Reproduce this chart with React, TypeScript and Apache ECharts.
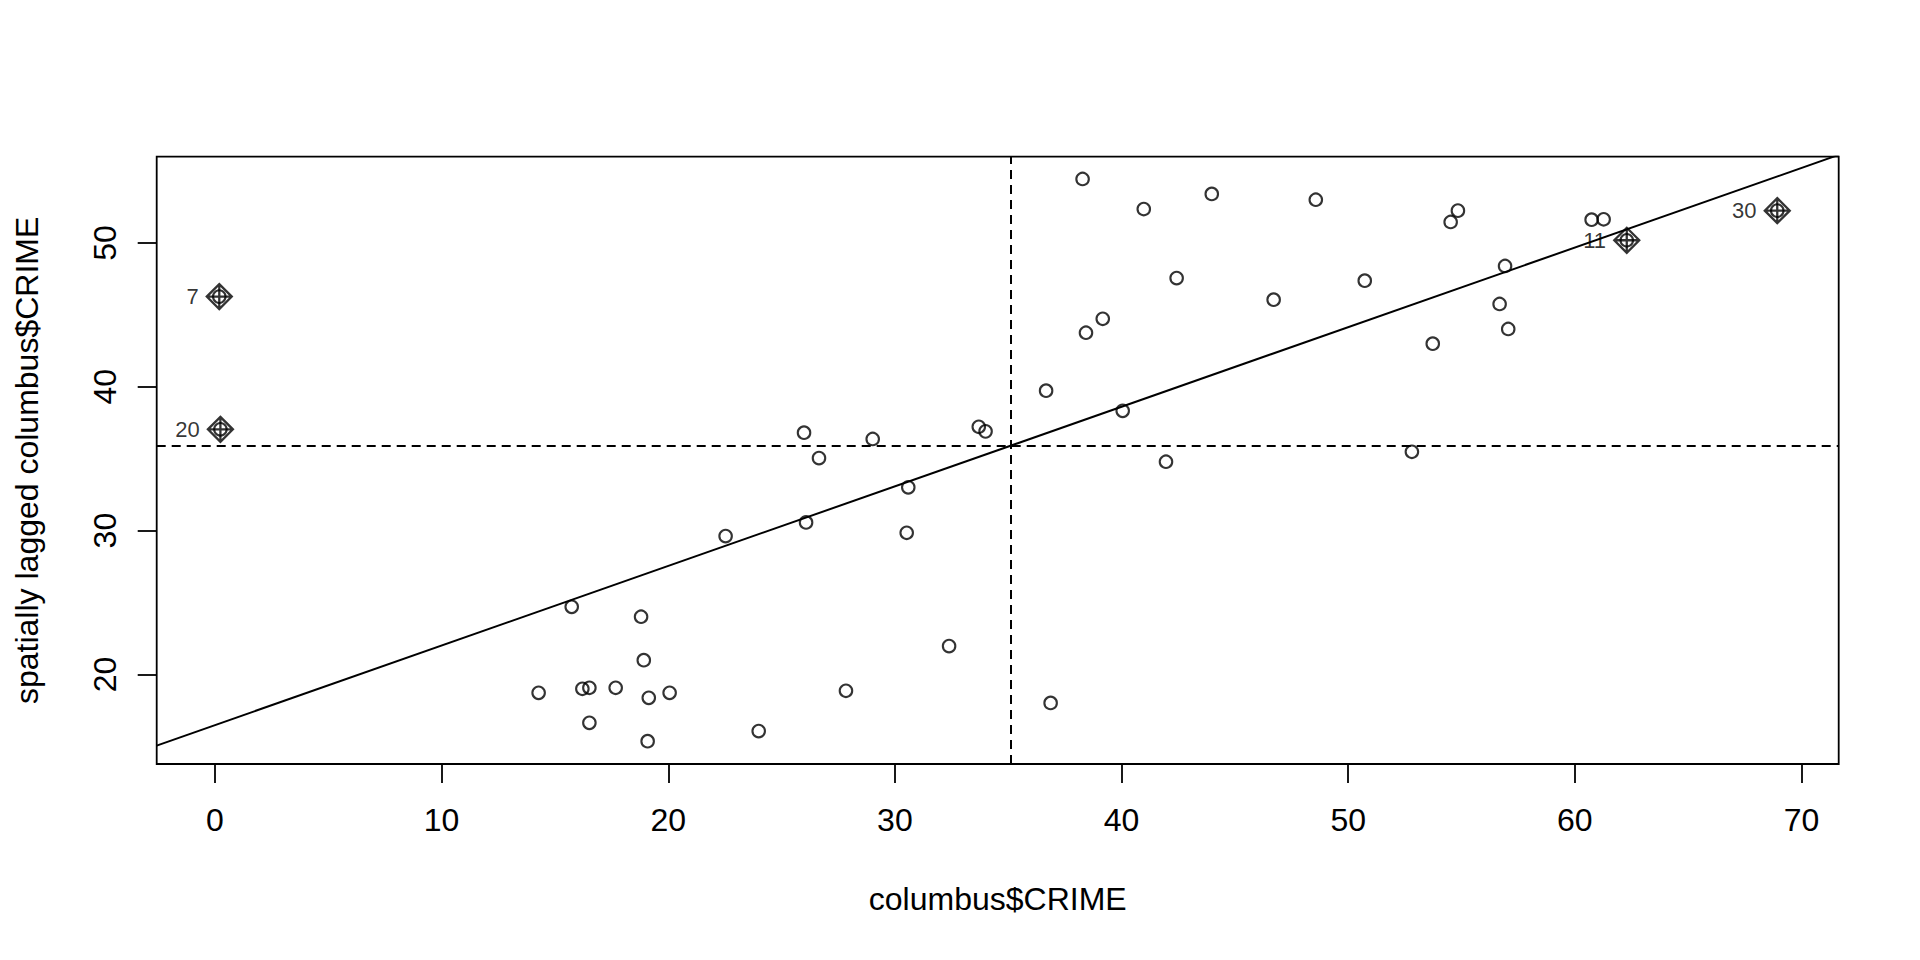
import React, { useEffect, useRef } from "react";
import * as echarts from "echarts";

// Observations (1..49): columbus$CRIME and its spatial lag
const CRIME = [
  15.74, 18.8, 30.59, 32.39, 50.73, 26.08, 0.19, 38.43, 30.52, 34.0,
  62.29, 56.68, 46.71, 57.06, 48.57, 54.84, 36.87, 43.98, 54.52, 0.24,
  40.05, 33.7, 20.06, 38.28, 61.27, 40.98, 52.81, 56.92, 60.74, 68.93,
  17.68, 19.14, 41.96, 42.43, 18.92, 16.52, 36.67, 25.99, 29.02, 16.21,
  27.84, 26.65, 22.53, 14.28, 16.52, 23.99, 19.09, 39.17, 53.73,
];
const LAG_CRIME = [
  24.7, 24.01, 33.01, 21.97, 47.38, 30.57, 46.27, 43.76, 29.85, 36.9,
  50.19, 45.76, 46.06, 44.02, 53.01, 52.25, 18.02, 53.41, 51.46, 37.04,
  38.33, 37.22, 18.72, 54.45, 51.65, 52.36, 35.48, 48.4, 51.62, 52.25,
  19.07, 18.37, 34.79, 47.56, 20.99, 19.07, 39.73, 36.81, 36.37, 19.0,
  18.86, 35.04, 29.62, 18.72, 16.63, 16.06, 15.36, 44.73, 43.0,
];
// Influential observations (1-based ids), drawn as diamonds and labelled
const INFLUENTIAL_IDS = [7, 11, 20, 30];

const X_TICKS = [0, 10, 20, 30, 40, 50, 60, 70];
const Y_TICKS = [20, 30, 40, 50];
const X_NAME = "columbus$CRIME";
const Y_NAME = "spatially lagged columbus$CRIME";

const X_MIN = -2.571;
const X_MAX = 71.641;
const Y_MIN = 13.77;
const Y_MAX = 56.0;

const FONT = "'Liberation Sans', Arial, sans-serif";
const FS = 32;

export default function App() {
  const ref = useRef<HTMLDivElement>(null);

  useEffect(() => {
    if (!ref.current) return;
    const chart = echarts.init(ref.current, null, { renderer: "svg" });

    const n = CRIME.length;
    const meanX = CRIME.reduce((a, b) => a + b, 0) / n;
    const meanY = LAG_CRIME.reduce((a, b) => a + b, 0) / n;
    let sxy = 0;
    let sxx = 0;
    for (let i = 0; i < n; i++) {
      sxy += (CRIME[i] - meanX) * (LAG_CRIME[i] - meanY);
      sxx += (CRIME[i] - meanX) * (CRIME[i] - meanX);
    }
    const slope = sxy / sxx;
    const intercept = meanY - slope * meanX;

    const points = CRIME.map((x, i) => [x, LAG_CRIME[i]]);
    const infl = INFLUENTIAL_IDS.map((id) => ({
      value: [CRIME[id - 1], LAG_CRIME[id - 1]],
      name: String(id),
    }));

    const diamond =
      "path://M12,0 L24,12 L12,24 L0,12 Z M12,0 L12,24 M0,12 L24,12";

    chart.setOption({
      animation: false,
      backgroundColor: "#ffffff",
      textStyle: { fontFamily: FONT },
      grid: {
        left: 156.7,
        top: 156.7,
        right: 81.3,
        bottom: 196,
        show: true,
        borderColor: "#000",
        borderWidth: 1.8,
        backgroundColor: "transparent",
      },
      xAxis: {
        type: "value",
        min: X_MIN,
        max: X_MAX,
        name: X_NAME,
        nameLocation: "middle",
        nameGap: 119,
        nameTextStyle: { fontSize: FS, color: "#000", fontFamily: FONT },
        axisLine: { show: false, onZero: false },
        axisTick: {
          show: true,
          customValues: X_TICKS,
          length: 19,
          lineStyle: { color: "#000", width: 1.8 },
        },
        axisLabel: {
          show: true,
          customValues: X_TICKS,
          fontSize: FS,
          color: "#000",
          margin: 40,
          fontFamily: FONT,
        },
        splitLine: { show: false },
      },
      yAxis: {
        type: "value",
        min: Y_MIN,
        max: Y_MAX,
        name: Y_NAME,
        nameLocation: "middle",
        nameGap: 114,
        nameRotate: 90,
        nameTextStyle: { fontSize: FS, color: "#000", fontFamily: FONT },
        axisLine: { show: false, onZero: false },
        axisTick: {
          show: true,
          customValues: Y_TICKS,
          length: 19,
          lineStyle: { color: "#000", width: 1.8 },
        },
        axisLabel: {
          show: true,
          customValues: Y_TICKS,
          rotate: 90,
          fontSize: FS,
          color: "#000",
          margin: 36,
          fontFamily: FONT,
        },
        splitLine: { show: false },
      },
      series: [
        {
          type: "line",
          data: [
            [X_MIN, intercept + slope * X_MIN],
            [X_MAX, intercept + slope * X_MAX],
          ],
          showSymbol: false,
          symbol: "none",
          clip: true,
          silent: true,
          lineStyle: { color: "#000", width: 2 },
          z: 2,
        },
        {
          type: "scatter",
          data: points,
          symbol: "circle",
          symbolSize: 12.5,
          itemStyle: {
            color: "rgba(0,0,0,0)",
            borderColor: "#000",
            borderWidth: 2.1,
          },
          z: 3,
          markLine: {
            silent: true,
            symbol: ["none", "none"],
            label: { show: false },
            lineStyle: { color: "#000", width: 2, type: [9, 6] },
            data: [{ xAxis: meanX }, { yAxis: meanY }],
          },
        },
        {
          type: "scatter",
          data: infl,
          symbol: diamond,
          symbolSize: 25,
          itemStyle: {
            color: "rgba(0,0,0,0)",
            borderColor: "#000",
            borderWidth: 2.3,
          },
          label: {
            show: true,
            position: "left",
            distance: 7,
            formatter: (p: any) => p.name,
            fontSize: 22,
            color: "#000",
            fontFamily: FONT,
          },
          z: 4,
        },
      ],
    });

    return () => chart.dispose();
  }, []);

  return (
    <div
      ref={ref}
      style={{
        position: "fixed",
        left: 0,
        top: 0,
        width: 1920,
        height: 960,
        background: "#fff",
      }}
    />
  );
}
